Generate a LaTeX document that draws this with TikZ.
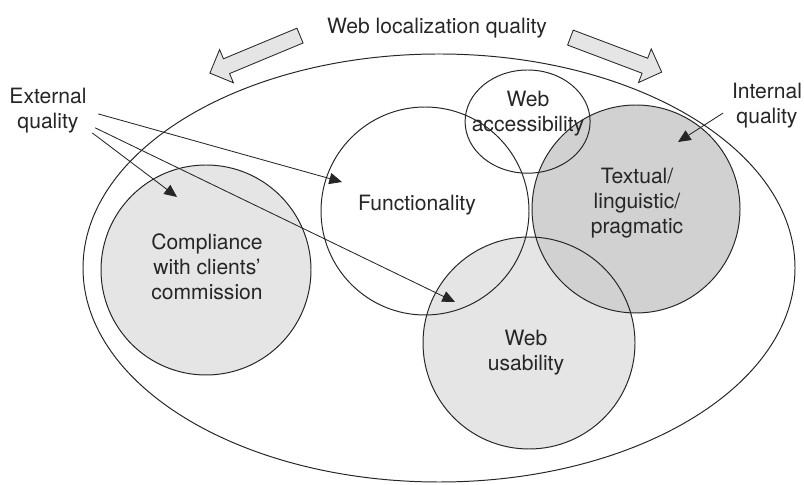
\documentclass[tikz,border=0pt]{standalone}
\usepackage{fontspec}
\setmainfont{TeX Gyre Heros}
\usetikzlibrary{arrows.meta}
\definecolor{lightfill}{gray}{0.9}
\definecolor{darkfill}{gray}{0.82}
\begin{document}
\begin{tikzpicture}[line width=0.7pt, color=black!85,
  lbl/.style={align=center, font=\fontsize{15}{17.8}\selectfont, inner sep=0pt},
  pointer/.style={-{Triangle[length=9pt,width=8pt]}, line width=0.6pt},
  bigarrow/.style={draw, fill=lightfill, line width=0.6pt}]
\useasboundingbox (0,0) rectangle (20.1,12.1);
% filled circles first
\fill[lightfill] (13.225,3.525) circle (2.65);
\fill[darkfill] (15.9,6.875) circle (2.6);
\fill[lightfill] (5.15,5.35) circle (2.625);
% outlines
\draw (10.975,5.4) ellipse [x radius=8.9, y radius=5.35];
\draw (5.15,5.35) circle (2.625);
\draw (10.625,6.825) circle (2.6);
\draw (13.19,9.06) ellipse [x radius=1.5625, y radius=1.29];
\draw (15.9,6.875) circle (2.6);
\draw (13.225,3.525) circle (2.65);
% block arrows
\draw[bigarrow, shift={(7.5,11.21)}, rotate=202.6] (0,-0.2) -- (1.99,-0.2) -- (1.99,-0.45) -- (2.44,0) -- (1.99,0.45) -- (1.99,0.2) -- (0,0.2) -- cycle;
\draw[bigarrow, shift={(14.26,11.16)}, rotate=-20.7] (0,-0.2) -- (1.99,-0.2) -- (1.99,-0.45) -- (2.44,0) -- (1.99,0.45) -- (1.99,0.2) -- (0,0.2) -- cycle;
% labels
\node[lbl] (title) at (10.925,11.4) {Web localization quality};
\node[lbl] (ext) at (1.2,9.34) {External\\quality};
\node[lbl] (int) at (19.175,9.45) {Internal\\quality};
\node[lbl] (comp) at (5.175,5.425) {Compliance\\with clients'\\commission};
\node[lbl] (func) at (10.425,6.975) {Functionality};
\node[lbl] (acc) at (13.2,9.25) {Web\\accessibility};
\node[lbl] (txt) at (15.925,7.025) {Textual/\\linguistic/\\pragmatic};
\node[lbl] (usab) at (13.15,3.275) {Web\\usability};
% pointer tips
\coordinate (compTip) at (4.425,7.175);
\coordinate (funcTip) at (8.55,7.55);
\coordinate (usabTip) at (11.375,4.55);
\coordinate (txtTip) at (16.95,8.55);
\draw[pointer] ([xshift=8pt,yshift=-2.5pt]ext.east) -- (funcTip);
\draw[pointer] ([xshift=5.8pt,yshift=-12.4pt]ext.east) -- (usabTip);
\draw[pointer] ([xshift=3.7pt,yshift=-16pt]ext.east) -- (compTip);
\draw[pointer] ([xshift=-6pt,yshift=-5pt]int.west) -- (txtTip);
\end{tikzpicture}
\end{document}
